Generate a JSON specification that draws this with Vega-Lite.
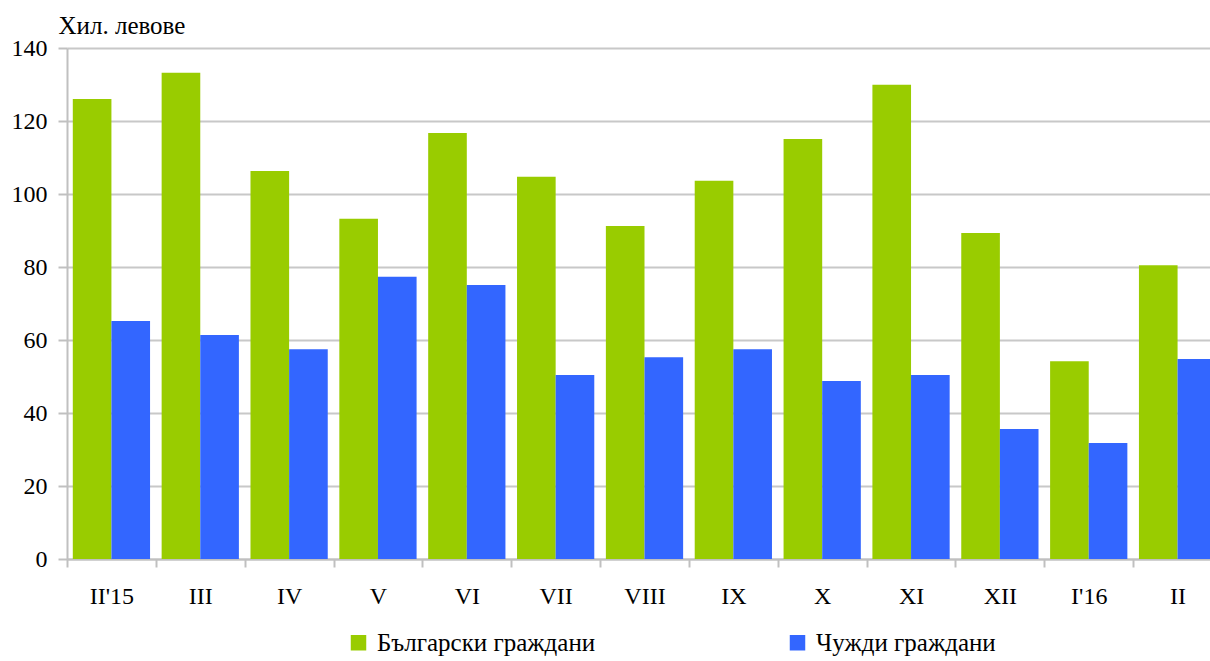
{
  "$schema": "https://vega.github.io/schema/vega-lite/v6.json",
  "autosize": "none",
  "width": 1155,
  "height": 511,
  "padding": {"left": 67, "top": 48, "right": 0, "bottom": 102},
  "background": "white",
  "config": {
    "font": "Liberation Serif",
    "view": {"stroke": null}
  },
  "data": {
    "values": [
      {"m": "II'15", "s": "Български граждани", "v": 126.0},
      {"m": "II'15", "s": "Чужди граждани", "v": 65.2},
      {"m": "III", "s": "Български граждани", "v": 133.2},
      {"m": "III", "s": "Чужди граждани", "v": 61.4},
      {"m": "IV", "s": "Български граждани", "v": 106.3},
      {"m": "IV", "s": "Чужди граждани", "v": 57.5},
      {"m": "V", "s": "Български граждани", "v": 93.2},
      {"m": "V", "s": "Чужди граждани", "v": 77.3},
      {"m": "VI", "s": "Български граждани", "v": 116.7},
      {"m": "VI", "s": "Чужди граждани", "v": 75.1},
      {"m": "VII", "s": "Български граждани", "v": 104.7},
      {"m": "VII", "s": "Чужди граждани", "v": 50.4},
      {"m": "VIII", "s": "Български граждани", "v": 91.2},
      {"m": "VIII", "s": "Чужди граждани", "v": 55.3},
      {"m": "IX", "s": "Български граждани", "v": 103.6},
      {"m": "IX", "s": "Чужди граждани", "v": 57.5},
      {"m": "X", "s": "Български граждани", "v": 115.1},
      {"m": "X", "s": "Чужди граждани", "v": 48.8},
      {"m": "XI", "s": "Български граждани", "v": 129.9},
      {"m": "XI", "s": "Чужди граждани", "v": 50.4},
      {"m": "XII", "s": "Български граждани", "v": 89.3},
      {"m": "XII", "s": "Чужди граждани", "v": 35.6},
      {"m": "I'16", "s": "Български граждани", "v": 54.2},
      {"m": "I'16", "s": "Чужди граждани", "v": 31.8},
      {"m": "II", "s": "Български граждани", "v": 80.5},
      {"m": "II", "s": "Чужди граждани", "v": 54.8}
    ]
  },
  "mark": {"type": "bar"},
  "encoding": {
    "x": {
      "field": "m",
      "type": "nominal",
      "sort": null,
      "scale": {"paddingInner": 0, "paddingOuter": 0},
      "axis": {
        "title": null,
        "labelAngle": 0,
        "labelFontSize": 24,
        "labelColor": "black",
        "labelPadding": 17,
        "tickBand": "extent",
        "tickSize": 8,
        "tickColor": "#c0c0c0",
        "tickWidth": 2,
        "domainColor": "#c0c0c0",
        "domainWidth": 2,
        "grid": false
      }
    },
    "xOffset": {
      "field": "s",
      "type": "nominal",
      "scale": {"paddingInner": 0, "paddingOuter": 0.15}
    },
    "y": {
      "field": "v",
      "type": "quantitative",
      "scale": {"domain": [0, 140], "nice": false},
      "axis": {
        "values": [0, 20, 40, 60, 80, 100, 120, 140],
        "title": "Хил. левове",
        "titleAngle": 0,
        "titleAlign": "left",
        "titleBaseline": "alphabetic",
        "titleX": -9,
        "titleY": -15,
        "titleFontSize": 25,
        "titleFontWeight": "normal",
        "titleColor": "black",
        "labelFontSize": 24,
        "labelColor": "black",
        "labelPadding": 11,
        "tickSize": 9,
        "tickColor": "#c0c0c0",
        "tickWidth": 2,
        "gridColor": "#c8c8c8",
        "gridWidth": 2,
        "domainColor": "#c0c0c0",
        "domainWidth": 2
      }
    },
    "color": {
      "field": "s",
      "type": "nominal",
      "scale": {
        "domain": ["Български граждани", "Чужди граждани"],
        "range": ["#99cc00", "#3366ff"]
      },
      "legend": {
        "title": null,
        "orient": "none",
        "direction": "horizontal",
        "legendX": 279,
        "legendY": 582,
        "padding": 0,
        "symbolType": "square",
        "symbolSize": 240,
        "symbolStrokeWidth": 0,
        "labelFontSize": 25,
        "labelLimit": 400,
        "labelColor": "black",
        "labelOffset": 6,
        "columnPadding": 189
      }
    }
  }
}
